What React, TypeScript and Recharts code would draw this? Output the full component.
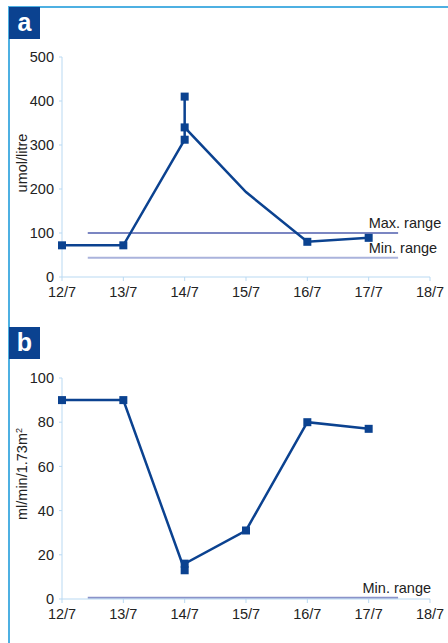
import React from 'react';
import { ComposedChart, Line, XAxis, YAxis, ReferenceLine, ReferenceDot } from 'recharts';

const xTicks = [12, 13, 14, 15, 16, 17, 18];

// panel a: creatinine, umol/litre
const daysA = [12, 13, 14, 14, 14, 15, 16, 17];
const valuesA = [72, 72, 312, 410, 340, 193, 80, 89];
const markerA = [true, true, true, true, true, false, true, true];
const yTicksA = [0, 100, 200, 300, 400, 500];
const maxRangeA = 100;
const minRangeA = 44;

// panel b: GFR, ml/min/1.73m2
const daysB = [12, 13, 14, 14, 15, 16, 17];
const valuesB = [90, 90, 13, 16, 31, 80, 77];
const yTicksB = [0, 20, 40, 60, 80, 100];
const minRangeB = 0.6;

const rangeStart = 12.42;
const rangeEnd = 17.48;

const NAVY = '#0b4290';
const FRAME = '#4db0e2';
const AXIS = '#b9d9f2';
const FONT = '"Liberation Sans", Arial, sans-serif';
const TEXT = '#222222';

const Square = (props: any) => {
  const { cx, cy } = props;
  if (cx == null || cy == null) return null;
  return <rect x={cx - 4} y={cy - 4} width={8} height={8} fill={NAVY} />;
};

const rangeText = (text: string) => (props: any) => (
  <text x={props.cx} y={props.cy - 5} fontSize={14.5} fill={TEXT} fontFamily={FONT}>
    {text}
  </text>
);

const tickStyle = { fontSize: 14.5, fill: TEXT, fontFamily: FONT };

function Panel({
  days,
  values,
  markers,
  yTicks,
  yMax,
  ranges,
  top,
  marginTop,
  xAxisHeight,
}: {
  days: number[];
  values: number[];
  markers: boolean[];
  yTicks: number[];
  yMax: number;
  ranges: { y: number; color: string; label: string; labelX: number }[];
  top: number;
  marginTop: number;
  xAxisHeight: number;
}) {
  const data = days.map((d, i) => ({ x: d, y: values[i] }));
  const markerData = data.filter((_, i) => markers[i]);
  return (
    <div style={{ position: 'absolute', left: 0, top }}>
      <ComposedChart
        width={448}
        height={310}
        margin={{ top: marginTop, right: 18, bottom: 0, left: 12 }}
      >
        <XAxis
          type="number"
          dataKey="x"
          domain={[12, 18]}
          ticks={xTicks}
          tickFormatter={(v) => `${v}/7`}
          tick={tickStyle}
          stroke={AXIS}
          tickSize={4}
          tickMargin={6}
          height={xAxisHeight}
          allowDuplicatedCategory
        />
        <YAxis
          type="number"
          domain={[0, yMax]}
          ticks={yTicks}
          tick={tickStyle}
          stroke={AXIS}
          tickSize={3}
          tickMargin={5}
          width={50}
        />
        {ranges.map((r) => (
          <ReferenceLine
            key={r.label}
            segment={[
              { x: rangeStart, y: r.y },
              { x: rangeEnd, y: r.y },
            ]}
            stroke={r.color}
            strokeWidth={2}
          />
        ))}
        {ranges.map((r) => (
          <ReferenceDot
            key={r.label + '-t'}
            x={r.labelX}
            y={r.y}
            r={0}
            shape={rangeText(r.label)}
          />
        ))}
        <Line
          data={data}
          dataKey="y"
          stroke={NAVY}
          strokeWidth={2.5}
          dot={false}
          isAnimationActive={false}
        />
        <Line
          data={markerData}
          dataKey="y"
          stroke="none"
          dot={<Square />}
          activeDot={false}
          isAnimationActive={false}
        />
      </ComposedChart>
    </div>
  );
}

function Badge({ letter, top }: { letter: string; top: number }) {
  return (
    <div
      style={{
        position: 'absolute',
        left: 9,
        top,
        width: 31,
        height: 32,
        background: NAVY,
        color: '#fff',
        fontFamily: FONT,
        fontWeight: 'bold',
        fontSize: 25,
        lineHeight: '31px',
        textAlign: 'center',
      }}
    >
      {letter}
    </div>
  );
}

function YTitle({ children, cy }: { children: React.ReactNode; cy: number }) {
  return (
    <div
      style={{
        position: 'absolute',
        left: 22,
        top: cy,
        transform: 'translate(-50%, -50%) rotate(-90deg)',
        whiteSpace: 'nowrap',
        fontFamily: FONT,
        fontSize: 14.5,
        color: TEXT,
      }}
    >
      {children}
    </div>
  );
}

export default function App() {
  return (
    <div
      style={{
        position: 'absolute',
        left: 0,
        top: 0,
        width: 448,
        height: 643,
        background: '#fff',
        overflow: 'hidden',
      }}
    >
      <div style={{ position: 'absolute', left: 9, top: 6, width: 439, height: 2, background: FRAME }} />
      <div style={{ position: 'absolute', left: 8, top: 6, width: 2, height: 637, background: FRAME }} />
      <Badge letter="a" top={7} />
      <Badge letter="b" top={327} />
      <YTitle cy={163}>umol/litre</YTitle>
      <YTitle cy={474}>
        ml/min/1.73m<sup style={{ fontSize: 9 }}>2</sup>
      </YTitle>
      <Panel
        days={daysA}
        values={valuesA}
        markers={markerA}
        yTicks={yTicksA}
        yMax={500}
        ranges={[
          { y: maxRangeA, color: '#7b86c2', label: 'Max. range', labelX: 17 },
          { y: minRangeA, color: '#aab3dc', label: 'Min. range', labelX: 17 },
        ]}
        top={0}
        marginTop={57}
        xAxisHeight={33}
      />
      <Panel
        days={daysB}
        values={valuesB}
        markers={daysB.map(() => true)}
        yTicks={yTicksB}
        yMax={100}
        ranges={[{ y: minRangeB, color: '#8a93c9', label: 'Min. range', labelX: 16.9 }]}
        top={320}
        marginTop={58}
        xAxisHeight={31}
      />
    </div>
  );
}
